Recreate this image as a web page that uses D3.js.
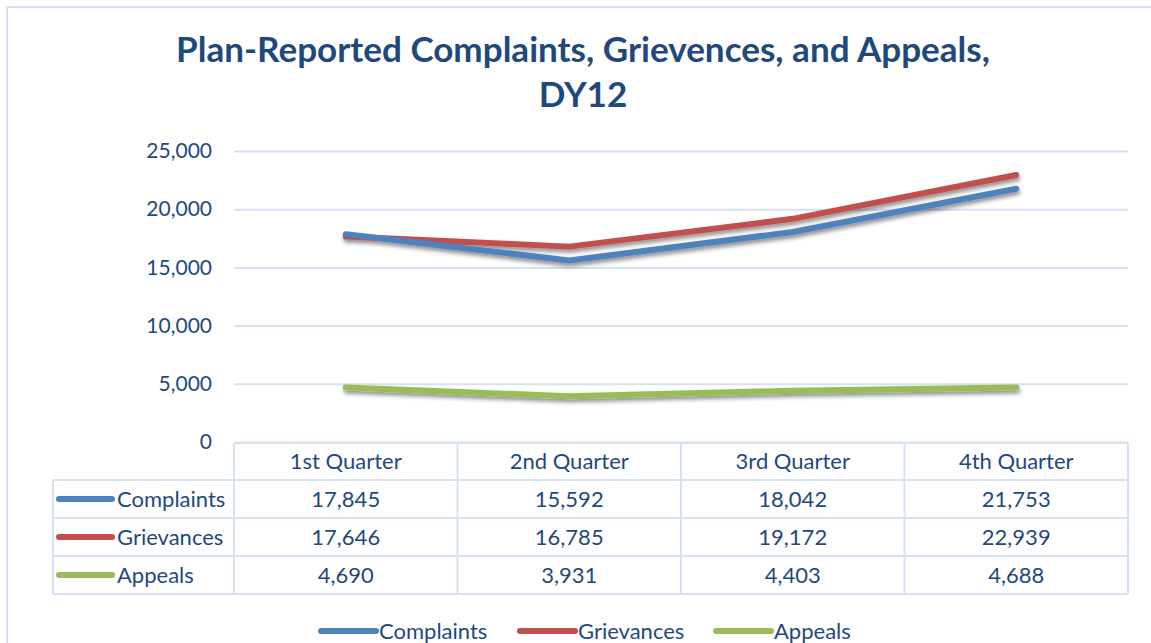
<!DOCTYPE html>
<html>
<head>
<meta charset="utf-8">
<script src="https://cdn.jsdelivr.net/npm/d3@7"></script>
<style>
  body { margin: 0; background: #fff; }
  text { font-family: Lato, "Open Sans", sans-serif; fill: #1F497D; }
</style>
</head>
<body>
<div id="chart"></div>
<script>
var quarters = ["1st Quarter", "2nd Quarter", "3rd Quarter", "4th Quarter"];
var complaints = [17845, 15592, 18042, 21753];
var grievances = [17646, 16785, 19172, 22939];
var appeals = [4690, 3931, 4403, 4688];
var yTicks = [0, 5000, 10000, 15000, 20000, 25000];

var series = [
  {name: "Complaints", values: complaints, color: "#4F81BD"},
  {name: "Grievances", values: grievances, color: "#C0504D"},
  {name: "Appeals", values: appeals, color: "#9BBB59"}
];

var W = 1151, H = 643;
var svg = d3.select("#chart").append("svg")
    .attr("width", W)
    .attr("height", H);

var defs = svg.append("defs");
defs.append("filter")
    .attr("id", "shadow")
    .attr("x", "-5%").attr("y", "-50%")
    .attr("width", "110%").attr("height", "200%")
  .append("feDropShadow")
    .attr("dx", 1).attr("dy", 3)
    .attr("stdDeviation", 2)
    .attr("flood-color", "#000")
    .attr("flood-opacity", 0.45);

// outer chart frame
svg.append("rect")
    .attr("x", 7).attr("y", 7)
    .attr("width", W + 20).attr("height", H + 20)
    .attr("fill", "none")
    .attr("stroke", "#D6E2F3")
    .attr("stroke-width", 2);

var plot = {left: 234, right: 1128, top: 151, bottom: 442};
var gridColor = "#D6E2F3";
var textSize = "22px";

var xScale = d3.scaleBand()
    .domain(quarters)
    .range([plot.left, plot.right]);

var yScale = d3.scaleLinear()
    .domain([0, 25000])
    .range([plot.bottom, plot.top]);

// title
var title = svg.append("text")
    .attr("text-anchor", "middle")
    .style("font-weight", "bold");
title.append("tspan")
    .attr("x", 583).attr("y", 62)
    .text("Plan-Reported Complaints, Grievences, and Appeals,");
title.append("tspan")
    .attr("x", 583).attr("y", 107)
    .text("DY12");
// fit the first line to the reference width
var fs = 30;
title.style("font-size", fs + "px");
var w0 = title.select("tspan").node().getComputedTextLength();
title.style("font-size", (fs * 814 / w0) + "px");

// grid lines
var yAxis = d3.axisLeft(yScale)
    .tickValues(yTicks)
    .tickSize(-(plot.right - plot.left))
    .tickPadding(22)
    .tickFormat(d3.format(","));

var yAxisGroup = svg.append("g")
    .attr("transform", "translate(" + plot.left + ",0)")
    .call(yAxis);
yAxisGroup.select(".domain").remove();
yAxisGroup.selectAll(".tick line")
    .attr("stroke", gridColor)
    .attr("stroke-width", 2);
yAxisGroup.selectAll(".tick text")
    .style("font-size", "21px")
    .style("font-family", "Lato, sans-serif")
    .attr("fill", "#1F497D");

// lines
var line = d3.line()
    .x((d, i) => xScale(quarters[i]) + xScale.bandwidth() / 2)
    .y(d => yScale(d));

svg.append("g")
    .attr("filter", "url(#shadow)")
  .selectAll("path")
  .data(series.slice().reverse())
  .enter()
  .append("path")
    .attr("d", d => line(d.values))
    .attr("fill", "none")
    .attr("stroke", d => d.color)
    .attr("stroke-width", 6)
    .attr("stroke-linecap", "round")
    .attr("stroke-linejoin", "round");

// data table
var table = {left: 53, top: 443, headerH: 37, rowH: 38};
var tg = svg.append("g");
var rowY = i => table.top + table.headerH + i * table.rowH;
var tableBottom = rowY(series.length);

var borderStyle = sel => sel.attr("stroke", gridColor).attr("stroke-width", 2).attr("fill", "none");

// header row top
tg.append("line").attr("x1", plot.left).attr("x2", plot.right)
    .attr("y1", table.top).attr("y2", table.top).call(borderStyle);
// horizontal row lines
tg.selectAll("line.row")
  .data(d3.range(series.length + 1))
  .enter().append("line")
    .attr("class", "row")
    .attr("x1", table.left).attr("x2", plot.right)
    .attr("y1", rowY).attr("y2", rowY)
    .call(borderStyle);
// vertical lines
tg.append("line").attr("x1", table.left).attr("x2", table.left)
    .attr("y1", rowY(0)).attr("y2", tableBottom).call(borderStyle);
tg.selectAll("line.col")
  .data(quarters)
  .enter().append("line")
    .attr("class", "col")
    .attr("x1", d => xScale(d)).attr("x2", d => xScale(d))
    .attr("y1", table.top).attr("y2", tableBottom)
    .call(borderStyle);
tg.append("line").attr("x1", plot.right).attr("x2", plot.right)
    .attr("y1", table.top).attr("y2", tableBottom).call(borderStyle);

// header labels
tg.selectAll("text.head")
  .data(quarters)
  .enter().append("text")
    .attr("class", "head")
    .attr("x", d => xScale(d) + xScale.bandwidth() / 2)
    .attr("y", table.top + table.headerH / 2)
    .attr("dy", "0.35em")
    .attr("text-anchor", "middle")
    .style("font-size", textSize)
    .text(d => d);

// rows
var rows = tg.selectAll("g.rowg")
  .data(series)
  .enter().append("g")
    .attr("class", "rowg")
    .attr("transform", (d, i) => "translate(0," + (rowY(i) + table.rowH / 2) + ")");

rows.append("line")
    .attr("x1", 59).attr("x2", 112)
    .attr("y1", 0).attr("y2", 0)
    .attr("stroke", d => d.color)
    .attr("stroke-width", 6)
    .attr("stroke-linecap", "round");

rows.append("text")
    .attr("x", 117)
    .attr("dy", "0.35em")
    .style("font-size", textSize)
    .text(d => d.name);

rows.selectAll("text.val")
  .data(d => d.values)
  .enter().append("text")
    .attr("class", "val")
    .attr("x", (d, i) => xScale(quarters[i]) + xScale.bandwidth() / 2)
    .attr("dy", "0.35em")
    .attr("text-anchor", "middle")
    .style("font-size", textSize)
    .text(d => d3.format(",")(d));

// legend
var legendX = [319, 518, 714];
var legend = svg.selectAll("g.legend")
  .data(series)
  .enter().append("g")
    .attr("class", "legend")
    .attr("transform", (d, i) => "translate(" + legendX[i] + ",631)");

legend.append("line")
    .attr("x1", 2).attr("x2", 57)
    .attr("y1", 0).attr("y2", 0)
    .attr("stroke", d => d.color)
    .attr("stroke-width", 6)
    .attr("stroke-linecap", "round");

legend.append("text")
    .attr("x", 60)
    .attr("dy", "0.35em")
    .style("font-size", textSize)
    .text(d => d.name);
</script>
</body>
</html>
